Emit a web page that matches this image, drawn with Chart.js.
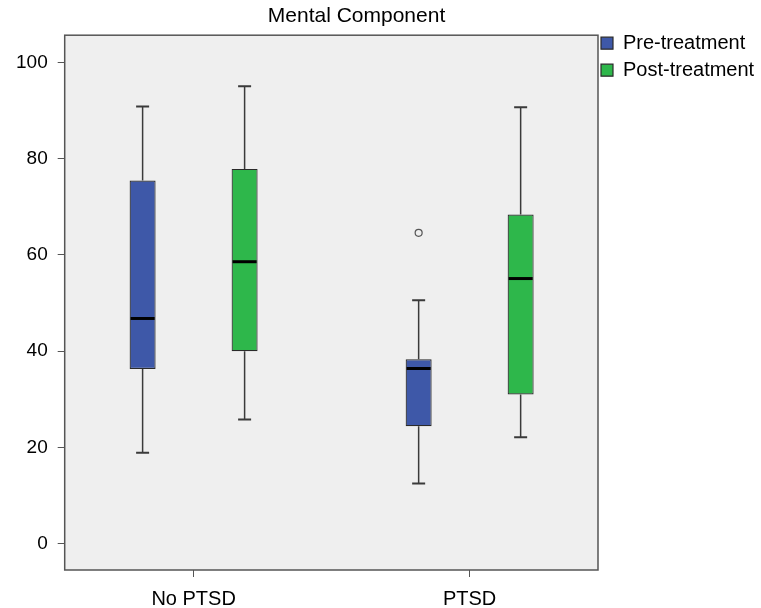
<!DOCTYPE html>
<html>
<head>
<meta charset="utf-8">
<script src="https://cdn.jsdelivr.net/npm/chart.js@4.4.1/dist/chart.umd.min.js"></script>
<style>
  body { margin: 0; background: #fff; }
  canvas { display: block; }
</style>
</head>
<body>
<canvas id="box" width="761" height="608"></canvas>
<script>
const categories = ['No PTSD', 'PTSD'];
const seriesNames = ['Pre-treatment', 'Post-treatment'];

// five-number summaries
const preMin = [18.9, 12.5];
const preQ1 = [36.3, 24.4];
const preMed = [46.8, 36.4];
const preQ3 = [75.5, 38.3];
const preMax = [90.9, 50.6];
const preOutliers = [[], [64.6]];

const postMin = [25.8, 22.1];
const postQ1 = [40.0, 31.0];
const postMed = [58.6, 55.1];
const postQ3 = [77.9, 68.4];
const postMax = [95.1, 90.7];
const postOutliers = [[], []];

const yTicks = [0, 20, 40, 60, 80, 100];

const stats = [
  {min: preMin, med: preMed, max: preMax, out: preOutliers},
  {min: postMin, med: postMed, max: postMax, out: postOutliers}
];

const FONT = "'Liberation Sans', Arial, Helvetica, sans-serif";

// panel background, frame, whiskers, medians, outliers
const boxPlugin = {
  id: 'boxPlugin',
  afterLayout(chart) {
    // small nudges so legend and title sit where the original has them
    const lg = chart.legend;
    lg.top -= 9; lg.bottom -= 9;
    lg.left -= 4; lg.right -= 4;
    const tb = chart.titleBlock;
    tb.left -= 27; tb.right -= 27;
  },
  beforeDraw(chart) {
    const {ctx, chartArea: a} = chart;
    ctx.save();
    ctx.fillStyle = '#efefef';
    ctx.fillRect(a.left, a.top, a.right - a.left, a.bottom - a.top);
    ctx.restore();
  },
  afterDatasetsDraw(chart) {
    const {ctx} = chart;
    const yScale = chart.scales.y;
    ctx.save();
    chart.data.datasets.forEach((ds, di) => {
      const meta = chart.getDatasetMeta(di);
      const s = stats[di];
      meta.data.forEach((bar, i) => {
        const x = bar.x;
        const w = bar.width;
        const top = Math.min(bar.y, bar.base);
        const bottom = Math.max(bar.y, bar.base);
        const yMax = yScale.getPixelForValue(s.max[i]);
        const yMin = yScale.getPixelForValue(s.min[i]);
        const yMed = yScale.getPixelForValue(s.med[i]);
        ctx.strokeStyle = '#3a3a3a';
        ctx.lineWidth = 1.5;
        ctx.beginPath();
        ctx.moveTo(x, top); ctx.lineTo(x, yMax);
        ctx.moveTo(x, bottom); ctx.lineTo(x, yMin);
        ctx.stroke();
        ctx.lineWidth = 2;
        ctx.beginPath();
        ctx.moveTo(x - w / 4, yMax); ctx.lineTo(x + w / 4, yMax);
        ctx.moveTo(x - w / 4, yMin); ctx.lineTo(x + w / 4, yMin);
        ctx.stroke();
        ctx.strokeStyle = '#000';
        ctx.lineWidth = 3;
        ctx.beginPath();
        ctx.moveTo(x - w / 2 + 1, yMed); ctx.lineTo(x + w / 2 - 1, yMed);
        ctx.stroke();
        s.out[i].forEach(v => {
          ctx.strokeStyle = '#555';
          ctx.lineWidth = 1.2;
          ctx.beginPath();
          ctx.arc(x, yScale.getPixelForValue(v), 3.5, 0, Math.PI * 2);
          ctx.stroke();
        });
      });
    });
    ctx.restore();
  },
  afterDraw(chart) {
    const {ctx, chartArea: a} = chart;
    ctx.save();
    ctx.strokeStyle = '#555';
    ctx.lineWidth = 1.5;
    ctx.strokeRect(a.left, a.top, a.right - a.left, a.bottom - a.top);
    ctx.restore();
  }
};

const ctx = document.getElementById('box');
new Chart(ctx, {
  type: 'bar',
  data: {
    datasets: [
      {
        label: seriesNames[0],
        data: categories.map((c, i) => ({x: i, y: [preQ1[i], preQ3[i]]})),
        backgroundColor: '#3e58a8',
        borderColor: '#2a2a2a',
        borderWidth: 1.2,
        borderSkipped: false
      },
      {
        label: seriesNames[1],
        data: categories.map((c, i) => ({x: i, y: [postQ1[i], postQ3[i]]})),
        backgroundColor: '#2eb74b',
        borderColor: '#2a2a2a',
        borderWidth: 1.2,
        borderSkipped: false
      }
    ]
  },
  options: {
    responsive: false,
    animation: false,
    devicePixelRatio: 1,
    categoryPercentage: 0.739,
    barPercentage: 0.255,
    layout: {padding: {left: 6, right: 0, top: 0, bottom: 0}},
    plugins: {
      title: {
        display: true,
        text: 'Mental Component',
        color: '#000',
        font: {family: FONT, size: 21, weight: 'normal'},
        padding: {top: 4, bottom: 6}
      },
      legend: {
        position: 'right',
        align: 'start',
        fullSize: false,
        maxWidth: 163,
        labels: {
          color: '#000',
          boxWidth: 12,
          boxHeight: 12,
          padding: 7,
          font: {family: FONT, size: 20}
        }
      },
      tooltip: {enabled: false}
    },
    scales: {
      x: {
        type: 'linear',
        min: -0.467,
        max: 1.465,
        offset: false,
        afterBuildTicks: (axis) => { axis.ticks = categories.map((c, i) => ({value: i})); },
        afterFit: (axis) => { axis.height = 38; },
        ticks: {
          color: '#000',
          padding: 10,
          font: {family: FONT, size: 20},
          callback: (v) => categories[v]
        },
        grid: {display: true, drawOnChartArea: false, tickLength: 7, color: '#555', offset: false},
        border: {display: false}
      },
      y: {
        min: -5.5,
        max: 105.7,
        afterBuildTicks: (axis) => { axis.ticks = yTicks.map(v => ({value: v})); },
        ticks: {
          color: '#000',
          padding: 10,
          font: {family: FONT, size: 19}
        },
        grid: {display: true, drawOnChartArea: false, tickLength: 7, color: '#555'},
        border: {display: false}
      }
    }
  },
  plugins: [boxPlugin]
});
</script>
</body>
</html>
